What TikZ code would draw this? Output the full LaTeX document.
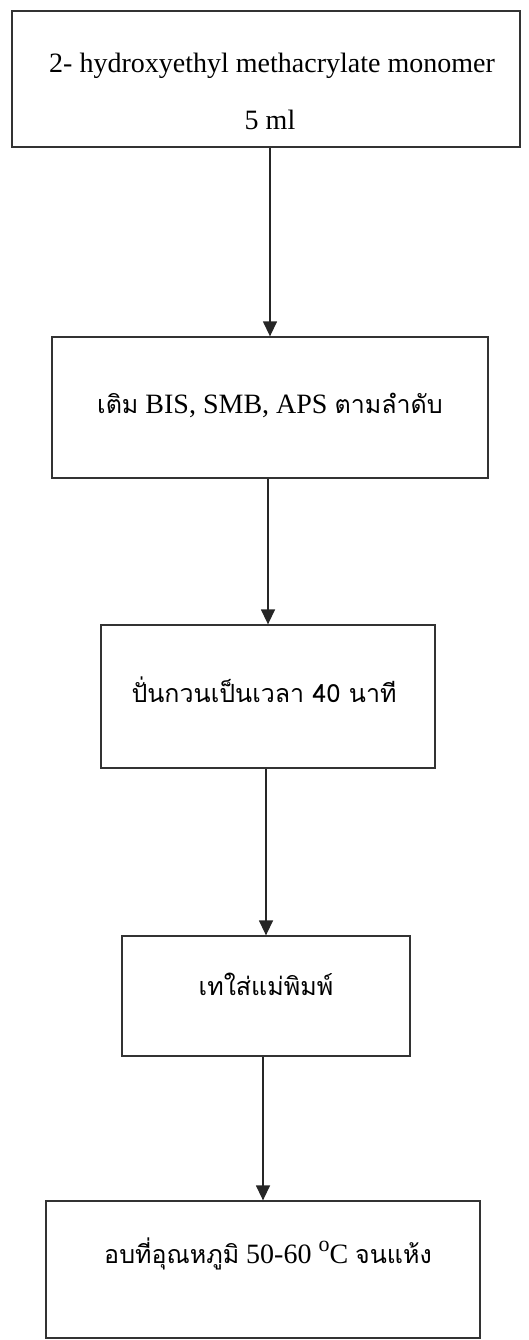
\documentclass[tikz,border=0pt]{standalone}
\usepackage{fontspec}
\setmainfont{Liberation Serif}
\newfontfamily\thaiface[Script=Thai]{Loma}
\newcommand{\thai}{\thaiface\fontsize{25}{34}\selectfont}
\usetikzlibrary{arrows.meta}
\begin{document}
\begin{tikzpicture}[x=1pt,y=-1pt,
  box/.style={draw=black!80,line width=1.3pt,inner sep=0pt},
  lbl/.style={anchor=base,inner sep=0pt,font=\fontsize{28}{34}\selectfont},
  tlbl/.style={anchor=base,inner sep=0pt,font=\thai},
  arr/.style={draw=black!85,line width=1.4pt,-{Triangle[length=15pt,width=14pt]}}]
\useasboundingbox (0,0) rectangle (529,1340);
\node[box,minimum width=508pt,minimum height=136pt] (B1) at (266,79) {};
\node[box,minimum width=436pt,minimum height=141pt] (B2) at (270,407.5) {};
\node[box,minimum width=334pt,minimum height=143pt] (B3) at (268,696.5) {};
\node[box,minimum width=288pt,minimum height=120pt] (B4) at (266,996) {};
\node[box,minimum width=434pt,minimum height=137pt] (B5) at (263,1269.5) {};
\node[lbl] (t1a) at (272,73) {2- hydroxyethyl methacrylate monomer};
\node[lbl] (t1b) at (270,130) {5 ml};
\node[lbl] (t2) at (270,413) {{\thai เติม} BIS, SMB, APS {\thai ตามลำดับ}};
\node[tlbl] (t3) at (264,702) {ปั่นกวนเป็นเวลา 40 นาที};
\node[tlbl] (t4) at (266,995) {เทใส่แม่พิมพ์};
\node[lbl] (t5) at (268,1263) {{\thai อบที่อุณหภูมิ} 50-60 \raisebox{0.42em}{\fontsize{22}{22}\selectfont o}C {\thai จนแห้ง}};
\draw[arr] (B1.south -| B2.north) -- (B2.north);
\draw[arr] (B2.south -| B3.north) -- (B3.north);
\draw[arr] (B3.south -| B4.north) -- (B4.north);
\draw[arr] (B4.south -| B5.north) -- (B5.north);
\end{tikzpicture}
\end{document}
